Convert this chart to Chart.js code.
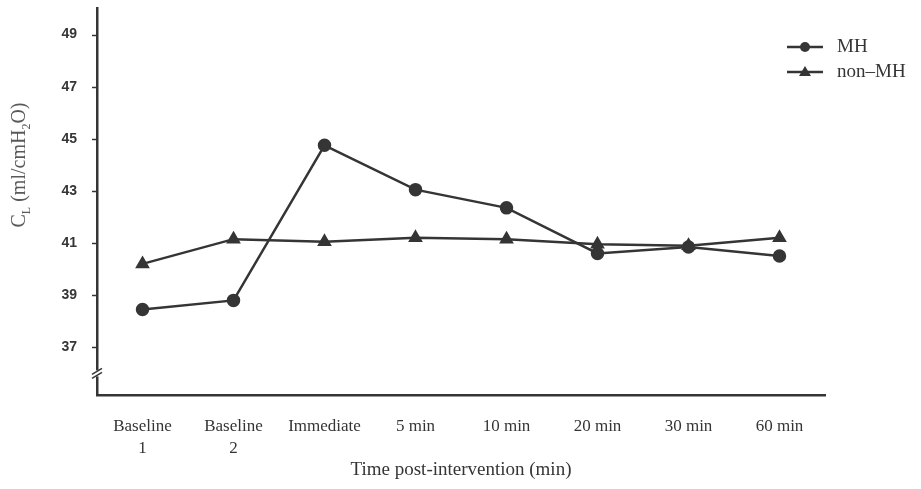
<!DOCTYPE html>
<html>
<head>
<meta charset="utf-8">
<script src="https://cdn.jsdelivr.net/npm/chart.js@4/dist/chart.umd.min.js"></script>
<style>
  html, body { margin: 0; padding: 0; background: #fff; }
  #wrap { width: 921px; height: 489px; }
</style>
</head>
<body>
<div id="wrap"><canvas id="line-chart"></canvas></div>
<script>
var timeLabels = [['Baseline', '1'], ['Baseline', '2'], 'Immediate', '5 min', '10 min', '20 min', '30 min', '60 min'];
var mhValues = [38.45, 38.8, 44.75, 43.05, 42.35, 40.6, 40.85, 40.5];
var nonMhValues = [40.2, 41.15, 41.05, 41.2, 41.15, 40.95, 40.9, 41.2];
var yTicks = [37, 39, 41, 43, 45, 47, 49];

var ink = '#353535';
var serif = '"Liberation Serif", "DejaVu Serif", serif';

// y ticks, y-axis title with subscripts, the axis break marks and the legend
var extras = {
    id: 'extras',
    afterDraw: function(chart) {
        var c = chart.ctx;
        var area = chart.chartArea;
        var ys = chart.scales.y;
        c.save();

        // short tick marks
        c.strokeStyle = ink;
        c.lineWidth = 1.5;
        yTicks.forEach(function(v) {
            var py = Math.round(ys.getPixelForValue(v)) + 0.5;
            c.beginPath();
            c.moveTo(area.left - 5, py);
            c.lineTo(area.left, py);
            c.stroke();
        });

        // axis break
        var bx = area.left, by = ys.getPixelForValue(36);
        c.fillStyle = '#fff';
        c.fillRect(bx - 3, by - 3, 6, 6);
        [-2, 2].forEach(function(d) {
            c.beginPath();
            c.moveTo(bx - 5, by + d + 3);
            c.lineTo(bx + 5, by + d - 3);
            c.stroke();
        });

        // y title
        c.translate(19, 165);
        c.rotate(-Math.PI / 2);
        c.fillStyle = '#5a5a5a';
        c.textBaseline = 'alphabetic';
        var parts = [['C', 0, 20], ['L', 5, 12], [' (ml/cmH', 0, 20], ['2', 5, 12], ['O)', 0, 20]];
        var w = 0;
        parts.forEach(function(p) { c.font = p[2] + 'px ' + serif; w += c.measureText(p[0]).width; });
        var x = -w / 2;
        parts.forEach(function(p) {
            c.font = p[2] + 'px ' + serif;
            c.fillText(p[0], x, 6 + p[1]);
            x += c.measureText(p[0]).width;
        });
        c.restore();

        // legend
        c.save();
        chart.data.datasets.forEach(function(ds, i) {
            var ly = 47 + i * 25;
            c.strokeStyle = ink;
            c.lineWidth = 2.5;
            c.beginPath();
            c.moveTo(787, ly);
            c.lineTo(823, ly);
            c.stroke();
            c.fillStyle = ink;
            c.beginPath();
            if (ds.pointStyle === 'triangle') {
                c.moveTo(805, ly - 6);
                c.lineTo(811, ly + 4);
                c.lineTo(799, ly + 4);
                c.closePath();
            } else {
                c.arc(805, ly, 5, 0, Math.PI * 2);
            }
            c.fill();
            c.font = '19px ' + serif;
            c.textBaseline = 'middle';
            c.fillText(ds.label, 837, ly);
        });
        c.restore();
    }
};

var ctx = document.getElementById('line-chart').getContext('2d');
var myChart = new Chart(ctx, {
    type: 'line',
    data: {
        labels: timeLabels,
        datasets: [{
            label: 'MH',
            data: mhValues,
            borderColor: ink,
            backgroundColor: ink,
            borderWidth: 2.5,
            pointStyle: 'circle',
            pointRadius: 5.5,
            pointHoverRadius: 5.5
        }, {
            label: 'non\u2013MH',
            data: nonMhValues,
            borderColor: ink,
            backgroundColor: ink,
            borderWidth: 2.5,
            pointStyle: 'triangle',
            pointRadius: 6,
            pointHoverRadius: 6
        }]
    },
    options: {
        responsive: true,
        maintainAspectRatio: false,
        animation: false,
        layout: { padding: { top: 0, right: 96, bottom: 8, left: 0 } },
        plugins: {
            legend: { display: false },
            tooltip: { enabled: false }
        },
        scales: {
            x: {
                offset: true,
                grid: { display: false },
                border: { display: true, color: ink, width: 2.5 },
                ticks: {
                    color: ink,
                    padding: 12,
                    maxRotation: 0,
                    autoSkip: false,
                    font: { family: serif, size: 17, lineHeight: 1.3 }
                },
                title: {
                    display: true,
                    text: 'Time post-intervention (min)',
                    color: ink,
                    font: { family: serif, size: 19 },
                    padding: { top: 2, bottom: 0 }
                },
                afterFit: function(s) { s.height = 86; }
            },
            y: {
                min: 35.17,
                max: 50,
                afterBuildTicks: function(s) {
                    s.ticks = yTicks.map(function(v) { return { value: v }; });
                },
                grid: {
                    display: true,
                    drawOnChartArea: false,
                    drawTicks: true,
                    tickLength: 20,
                    tickColor: 'rgba(0,0,0,0)'
                },
                border: { display: true, color: ink, width: 2.5 },
                ticks: {
                    color: ink,
                    padding: 0,
                    font: { family: '"Liberation Sans", Arial, sans-serif', size: 14, weight: 'bold' }
                },
                afterFit: function(s) { s.width = 97; }
            }
        }
    },
    plugins: [extras]
});
</script>
</body>
</html>
